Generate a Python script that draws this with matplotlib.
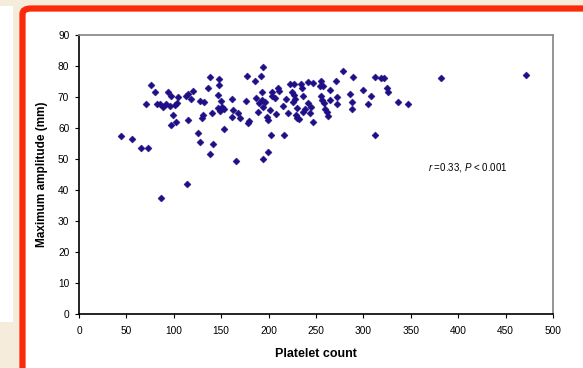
import matplotlib
matplotlib.use("Agg")
import matplotlib.pyplot as plt
from matplotlib.patches import Rectangle, FancyBboxPatch

plt.rcParams['font.family'] = ['Liberation Sans', 'DejaVu Sans']
plt.rcParams['mathtext.fontset'] = 'custom'
plt.rcParams['mathtext.rm'] = 'Liberation Sans'
plt.rcParams['mathtext.it'] = 'Liberation Sans:italic'

platelet = [44.3, 56.2, 65, 72.4, 70.3, 76.3, 80.5, 82, 85.4, 88.9, 91.8, 94.2, 97, 96,
            101.3, 104, 103, 98.8, 97.4, 102.3, 112.9, 115, 115, 114.3, 86.2,
            194.4, 192, 185.7, 177.5, 138.5, 148, 148, 135.7, 120.3, 118.1, 127.6, 132.2,
            146.3, 149.4, 147, 150.5, 149.1, 153.3, 161, 176.2, 186.4, 189.9, 193.4, 193.4,
            189.2, 162.8, 168, 161, 169.8, 178.6, 179.6, 140.6, 131.1, 130, 153.3, 125.8,
            127.6, 141.7, 138.2, 165.3, 194.1, 199,
            196.2, 194.4, 203.2, 203.9, 206.8, 210.2, 210.6, 201.5, 207.5, 198.6, 199.7,
            218.4, 215.5, 220.8, 222.6, 226.9, 225, 227.1, 227.8, 226.1, 229.6, 228.9,
            232.4, 229.6, 234.2, 234.9, 235.9, 235.9, 238.4, 241.2, 246.4, 241.9, 244.4,
            243.7, 246.5, 255.3, 254.2, 257.7, 264.8, 255.3, 256, 258.8, 259.5, 261.9, 263,
            264.8, 271, 271.8, 272.5, 202.5, 216.2,
            278.2, 289.4, 312.2, 318.5, 322, 299.2, 307.7, 324.6, 326.3, 285.9, 287.7,
            287.7, 305.2, 336.9, 346.6, 312.2, 381.5, 471.5]
max_amplitude = [57.3, 56.3, 53.4, 53.5, 67.8, 73.9, 71.7, 67.8, 67.8, 66.9, 67.6, 71.5, 70.4, 67.1,
                 67.4, 70.1, 68.2, 64.2, 61.0, 61.9, 70.4, 70.9, 62.6, 41.8, 37.5,
                 79.6, 76.8, 75.1, 76.9, 76.3, 75.8, 73.8, 72.8, 72.0, 69.2, 68.8, 68.3,
                 70.7, 68.8, 66.4, 66.9, 65.6, 66.0, 69.2, 68.8, 69.8, 68.0, 69.0, 71.7,
                 65.3, 65.8, 64.7, 63.7, 63.1, 61.5, 62.4, 64.7, 64.2, 63.1, 59.7, 58.3,
                 55.5, 54.7, 51.5, 49.2, 50.1, 52.2,
                 68.3, 66.9, 71.7, 70.3, 69.6, 72.8, 71.9, 65.8, 64.4, 63.5, 62.6,
                 69.5, 67.1, 64.7, 74.1, 74.2, 71.7, 70.6, 69.2, 68.4, 66.4, 64.2,
                 62.8, 63.1, 74.2, 72.8, 70.3, 65.3, 66.0, 74.9, 74.4, 68.0, 66.9,
                 64.7, 61.9, 75.2, 73.5, 73.5, 72.3, 70.4, 69.0, 68.0, 66.1, 65.3, 63.9,
                 69.0, 75.2, 70.1, 67.7, 57.7, 57.7,
                 78.4, 76.4, 76.4, 76.0, 76.0, 72.3, 70.3, 72.8, 71.5, 71.0, 68.3,
                 66.1, 67.6, 68.3, 67.6, 57.7, 76.1, 77.0]

x_ticks = list(range(0, 501, 50))
y_ticks = list(range(0, 91, 10))
annotation = "$r$ =0.33, $P$ < 0.001"

W, H = 583, 368
fig = plt.figure(figsize=(W / 100, H / 100), dpi=100)
fig.patch.set_facecolor('#f6ecdc')


def px_rect(x0, y0, x1, y1, **kw):
    return Rectangle((x0 / W, 1 - y1 / H), (x1 - x0) / W, (y1 - y0) / H,
                     transform=fig.transFigure, **kw)


fig.patches.append(px_rect(0, 6, 13, 322, facecolor='white', edgecolor='none', zorder=-5))
frame = FancyBboxPatch((22.5 / W, -0.2), 1.0, 1 - 8.5 / H + 0.2,
                       boxstyle="round,pad=0,rounding_size=0.015",
                       transform=fig.transFigure, facecolor='white',
                       edgecolor='#fb2a0a', linewidth=4.5, zorder=-5)
fig.patches.append(frame)

ax = fig.add_axes([79 / W, 1 - 314 / H, (553 - 79) / W, (314 - 35) / H])
ax.set_zorder(2)
ax.set_facecolor('white')
ax.scatter(platelet, max_amplitude, marker='D', s=13, color='#1f0f86',
           edgecolors='#1f0f86', linewidths=0.3, zorder=3, clip_on=False)

ax.set_xlim(0, 500)
ax.set_ylim(0, 90)
ax.set_xticks(x_ticks)
ax.set_yticks(y_ticks)
ax.tick_params(axis='both', direction='out', length=3, width=0.8, labelsize=7.3,
               colors='black', pad=4)
ax.tick_params(axis='x', pad=6)

for side in ('left', 'bottom'):
    ax.spines[side].set_color('black')
    ax.spines[side].set_linewidth(1.2)
for side in ('top', 'right'):
    ax.spines[side].set_color('#8c8c8c')
    ax.spines[side].set_linewidth(1.3)

ax.set_xlabel('Platelet count', fontsize=9, fontweight='bold', labelpad=8)
ax.set_ylabel('Maximum amplitude (mm)', fontsize=8.5, fontweight='bold', labelpad=7)

ax.text(368, 47.4, annotation, fontsize=7, va='center', ha='left')

fig.savefig('out.png', dpi=100, facecolor=fig.get_facecolor())
